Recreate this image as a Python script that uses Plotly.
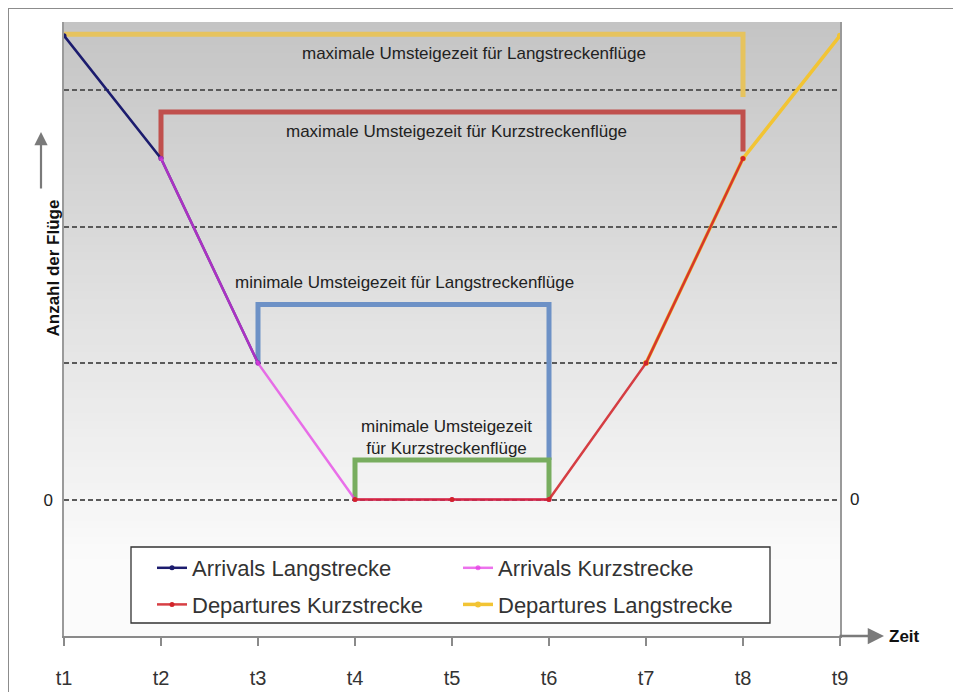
import plotly.graph_objects as go

# ---------------- data ----------------
x_pos = [1, 2, 3, 4, 5, 6, 7, 8, 9]
tick_labels = ["t1", "t2", "t3", "t4", "t5", "t6", "t7", "t8", "t9"]

arrivals_lang = [3.4, 2.5, 1.0, None, None, None, None, None, None]
arrivals_kurz = [None, 2.5, 1.0, 0, 0, 0, None, None, None]
departures_kurz = [None, None, None, 0, 0, 0, 1.0, 2.5, None]
departures_lang = [None, None, None, None, None, None, 1.0, 2.5, 3.4]

# brackets: start time, end time, top level, left-leg bottom, right-leg bottom
br_start = [1, 2, 3, 4]
br_end = [8, 8, 6, 6]
br_top = [3.41, 2.84, 1.43, 0.29]
br_left_bottom = [3.41, 2.5, 1.0, 0.0]
br_right_bottom = [2.95, 2.55, 0.29, 0.0]
br_labels = [
    "maximale Umsteigezeit für Langstreckenflüge",
    "maximale Umsteigezeit für Kurzstreckenflüge",
    "minimale Umsteigezeit für Langstreckenflüge",
    "minimale Umsteigezeit<br>für Kurzstreckenflüge",
]
br_label_x = [5.23, 5.05, 4.51, 4.94]
br_label_y = [3.27, 2.695, 1.59, 0.455]
br_colors = ["#e6c35e", "#c0504d", "#6d91c6", "#78ad5f"]

FONT = "Liberation Sans, Arial, sans-serif"

# figure geometry (page has an 8px body margin)
W, H = 945, 684
ML, MT, PW, PH = 56, 14, 776, 614
MR = W - ML - PW
MB = H - MT - PH


def px(xp):
    return (xp - 8 - ML) / PW


def py(yp):
    return (MT + PH - (yp - 8)) / PH


fig = go.Figure()

# brackets
for i in range(len(br_start)):
    fig.add_trace(go.Scatter(
        x=[br_start[i], br_start[i], br_end[i], br_end[i]],
        y=[br_left_bottom[i], br_top[i], br_top[i], br_right_bottom[i]],
        mode="lines", line=dict(color=br_colors[i], width=5),
        showlegend=False, hoverinfo="skip"))

# data series (drawing order: navy, magenta, yellow, red)
fig.add_trace(go.Scatter(x=x_pos, y=arrivals_lang, name="Arrivals Langstrecke",
                         mode="lines+markers", line=dict(color="#1c1c6e", width=2.5),
                         marker=dict(size=5, color="#1c1c6e"),
                         legend="legend", legendgroup="a"))
fig.add_trace(go.Scatter(x=x_pos, y=arrivals_kurz, name="Arrivals Kurzstrecke",
                         mode="lines+markers", line=dict(color="rgba(228,60,228,0.72)", width=2.5),
                         marker=dict(size=5, color="rgba(228,60,228,0.72)"),
                         legend="legend2", legendgroup="b"))
fig.add_trace(go.Scatter(x=x_pos, y=departures_lang, name="Departures Langstrecke",
                         mode="lines+markers", line=dict(color="#f2c434", width=3.5),
                         marker=dict(size=6, color="#f2c434"),
                         legend="legend2", legendgroup="d"))
fig.add_trace(go.Scatter(x=x_pos, y=departures_kurz, name="Departures Kurzstrecke",
                         mode="lines+markers", line=dict(color="rgba(210,36,42,0.88)", width=2.5),
                         marker=dict(size=5, color="#d2242a"),
                         legend="legend", legendgroup="c"))

annotations = []
for i in range(len(br_labels)):
    annotations.append(dict(x=br_label_x[i], y=br_label_y[i], xref="x", yref="y",
                            text=br_labels[i], showarrow=False,
                            font=dict(family=FONT, size=17, color="#222")))

# axis decorations
annotations += [
    dict(xref="paper", yref="paper", x=px(884), y=0, ax=-46, ay=0, text="",
         showarrow=True, arrowhead=2, arrowsize=1.3, arrowwidth=2.5, arrowcolor="#7a7a7a"),
    dict(xref="paper", yref="paper", x=px(887), y=0, text="<b>Zeit</b>", showarrow=False,
         xanchor="left", yanchor="middle", font=dict(family=FONT, size=17, color="#111")),
    dict(xref="paper", yref="paper", x=px(41), y=py(268), text="<b>Anzahl der Flüge</b>",
         textangle=-90, showarrow=False, font=dict(family=FONT, size=17, color="#111")),
    dict(xref="paper", yref="paper", x=px(41), y=py(132), ax=0, ay=58, text="",
         showarrow=True, arrowhead=2, arrowsize=1.2, arrowwidth=2.2, arrowcolor="#7a7a7a"),
    dict(xref="paper", yref="y", x=1, y=0, xanchor="left", xshift=8, text="0", showarrow=False,
         font=dict(family=FONT, size=17, color="#222")),
]

# background gradient bands (style only)
shapes = []
n = 80
for k in range(n):
    f0 = k / n
    f1 = min(1.0, (k + 1) / n + 0.004)
    t = 1 - (k + 0.5) / n  # 0 at top, 1 at bottom
    t2 = min(1.0, t / 0.88)
    c = int(round(196 + (251 - 196) * t2))
    shapes.append(dict(type="rect", xref="paper", yref="paper", x0=0, x1=1, y0=f0, y1=f1,
                       fillcolor=f"rgb({c},{c},{c})", line=dict(width=0), layer="below"))
# outer frame
shapes.append(dict(type="rect", xref="paper", yref="paper", x0=px(8), x1=1.3, y0=-0.3, y1=py(8),
                   line=dict(color="#8c8c8c", width=2), fillcolor="rgba(0,0,0,0)", layer="above"))
# legend box
shapes.append(dict(type="rect", xref="paper", yref="paper", x0=px(131), x1=px(770),
                   y0=py(623), y1=py(547),
                   line=dict(color="#333", width=1.3), fillcolor="white", layer="above"))

fig.update_layout(
    width=W, height=H,
    margin=dict(l=ML, r=MR, t=MT, b=MB, autoexpand=False),
    paper_bgcolor="white", plot_bgcolor="rgba(0,0,0,0)",
    font=dict(family=FONT, color="#333"),
    xaxis=dict(range=[1, 9], tickvals=x_pos, ticktext=tick_labels, showgrid=False, zeroline=False,
               showline=True, linecolor="#8a8a8a", linewidth=2,
               ticks="outside", ticklen=8, tickwidth=2, tickcolor="#8a8a8a",
               tickfont=dict(family=FONT, size=20, color="#333"), ticklabelstandoff=15),
    yaxis=dict(range=[-1, 3.5], tickvals=[0, 1, 2, 3], ticktext=["0", "", "", ""],
               showgrid=True, gridcolor="#5a5a5a", gridwidth=2, griddash="5px,3px",
               zeroline=False, showline=True, mirror=True, linecolor="#9a9a9a", linewidth=1.5,
               ticks="", tickfont=dict(family=FONT, size=17, color="#222"), ticklabelstandoff=6),
    legend=dict(x=px(152), y=py(547), xanchor="left", yanchor="top", bgcolor="rgba(0,0,0,0)",
                borderwidth=0, font=dict(family=FONT, size=22, color="#333"), tracegroupgap=5),
    legend2=dict(x=px(458), y=py(547), xanchor="left", yanchor="top", bgcolor="rgba(0,0,0,0)",
                 borderwidth=0, font=dict(family=FONT, size=22, color="#333"), tracegroupgap=5),
    annotations=annotations,
    shapes=shapes,
    showlegend=True,
)

fig.write_html("out.html")
